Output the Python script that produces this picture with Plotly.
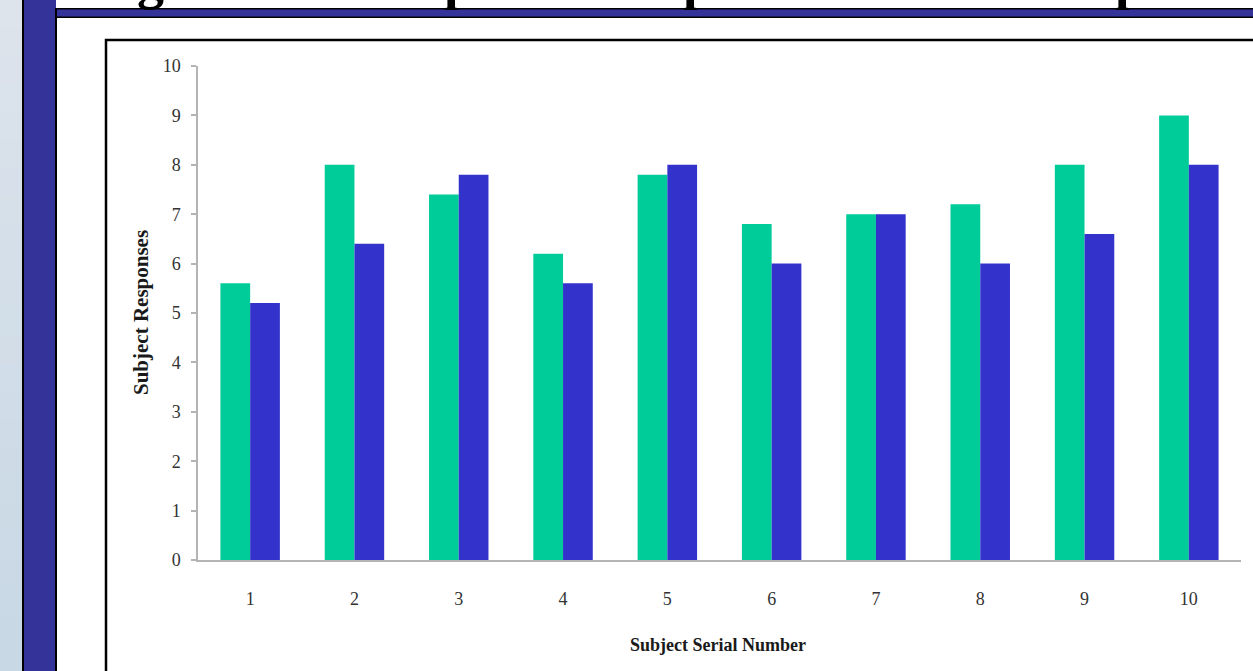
import plotly.graph_objects as go

# Chart data
subjects = ["1", "2", "3", "4", "5", "6", "7", "8", "9", "10"]
series_a = [5.6, 8.0, 7.4, 6.2, 7.8, 6.8, 7.0, 7.2, 8.0, 9.0]
series_b = [5.2, 6.4, 7.8, 5.6, 8.0, 6.0, 7.0, 6.0, 6.6, 8.0]
y_ticks = [0, 1, 2, 3, 4, 5, 6, 7, 8, 9, 10]

W, H = 1253, 671
L, R, T, B = 198, 12, 66, 111
PW, PH = W - L - R, H - T - B

SERIF = "Liberation Serif, Times New Roman, serif"
GREEN = "#00CC99"
BLUE = "#3333CC"
FRAME = "#333399"


def px(x):
    return (x - L) / PW


def py(y):
    return 1 - (y - T) / PH


def rect(x0, y0, x1, y1, fill, line_color=None, line_width=0, layer="below"):
    return dict(
        type="rect", xref="paper", yref="paper",
        x0=px(x0), x1=px(x1), y0=py(y1), y1=py(y0),
        fillcolor=fill,
        line=dict(color=line_color or "rgba(0,0,0,0)", width=line_width),
        layer=layer,
    )


shapes = []
# light left margin with a soft vertical gradient
n = 24
c_top = (221, 228, 236)
c_bot = (200, 216, 229)
for i in range(n):
    t = i / (n - 1)
    c = tuple(int(c_top[k] + (c_bot[k] - c_top[k]) * t) for k in range(3))
    shapes.append(rect(0, H * i / n, 23, H * (i + 1) / n + 1, "rgb(%d,%d,%d)" % c))
# slide frame
shapes.append(rect(22, 0, 24, H + 5, "black"))
shapes.append(rect(24, 0, 56, H + 5, FRAME))
shapes.append(rect(56, 8, W + 5, 18, "black"))
shapes.append(rect(24, 9.5, W + 5, 16.5, FRAME))
shapes.append(rect(55, 8, 57, H + 5, "black"))
# chart box outline
shapes.append(dict(
    type="rect", xref="paper", yref="paper",
    x0=px(106), x1=px(W + 20), y0=py(H + 20), y1=py(40),
    fillcolor="rgba(0,0,0,0)", line=dict(color="black", width=2.5), layer="below",
))

annotations = []
# bottoms of the heading glyphs running off the top of the slide
for ch, xc in [("g", 150), ("p", 459), ("p", 698), ("p", 1130)]:
    annotations.append(dict(
        text=ch, xref="paper", yref="paper", x=px(xc), y=py(2),
        xanchor="center", yanchor="bottom", yshift=-10,
        showarrow=False, font=dict(family=SERIF, size=54, color="black", weight="bold"),
    ))
# axis titles
annotations.append(dict(
    text="<b>Subject Responses</b>", xref="paper", yref="paper",
    x=px(141), y=py(313), xanchor="center", yanchor="middle", textangle=-90,
    showarrow=False, font=dict(family=SERIF, size=21, color="#1a1a1a"),
))
annotations.append(dict(
    text="<b>Subject Serial Number</b>", xref="paper", yref="paper",
    x=px(718), y=py(645), xanchor="center", yanchor="middle",
    showarrow=False, font=dict(family=SERIF, size=18, color="#1a1a1a"),
))

fig = go.Figure()
fig.add_trace(go.Bar(x=subjects, y=series_a, marker=dict(color=GREEN, line=dict(width=0)), name="A"))
fig.add_trace(go.Bar(x=subjects, y=series_b, marker=dict(color=BLUE, line=dict(width=0)), name="B"))

fig.update_layout(
    width=W, height=H,
    margin=dict(l=L, r=R, t=T, b=B, pad=0),
    paper_bgcolor="white", plot_bgcolor="white",
    barmode="group", bargap=0.43, bargroupgap=0,
    showlegend=False,
    shapes=shapes, annotations=annotations,
    xaxis=dict(
        type="category", range=[-0.5, 9.5],
        showgrid=False, zeroline=False,
        showline=True, linecolor="#b4b4b4", linewidth=1.5,
        ticks="", ticklabelstandoff=22,
        tickfont=dict(family=SERIF, size=18, color="#333"),
    ),
    yaxis=dict(
        range=[0, 10], tickvals=y_ticks,
        showgrid=False, zeroline=False,
        showline=True, linecolor="#b4b4b4", linewidth=1.5,
        ticks="outside", ticklen=5, tickcolor="#b4b4b4", tickwidth=1.5,
        ticklabelstandoff=7,
        tickfont=dict(family=SERIF, size=18, color="#333"),
    ),
)

fig.write_html("out.html")
